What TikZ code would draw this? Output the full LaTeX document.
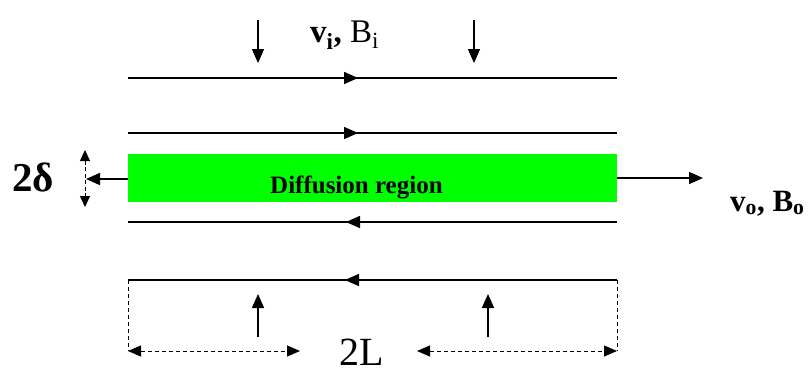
\documentclass[tikz,border=0pt]{standalone}
\usepackage{fontspec}
\setmainfont{Liberation Serif}
\usetikzlibrary{arrows.meta}
\definecolor{diffgreen}{RGB}{0,255,0}
\begin{document}
\begin{tikzpicture}[x=1pt,y=-1pt,
  flow/.style={line width=1.5pt},
  tipped/.style={line width=1.5pt,-{Triangle[length=14pt,width=12pt]}},
  dimline/.style={line width=1pt,dash pattern=on 4pt off 3pt},
  dimarrow/.style={line width=1pt,dash pattern=on 4pt off 3pt,
    {Triangle[length=13pt,width=11pt]}-{Triangle[length=13pt,width=11pt]}},
  lbl/.style={inner sep=0pt,anchor=base west}
]
\useasboundingbox (0,0) rectangle (812,373);

% diffusion region
\node[fill=diffgreen,draw=none,minimum width=489pt,minimum height=48pt,inner sep=0pt,anchor=north west] (dr) at (128,154) {};
\node[lbl,font=\fontsize{25}{30}\selectfont\bfseries] (drt) at (270,193) {Diffusion region};

% field lines
\coordinate (l1a) at (128,78);  \coordinate (l1b) at (617,78);
\coordinate (l2a) at (128,133); \coordinate (l2b) at (617,133);
\coordinate (l3a) at (128,222); \coordinate (l3b) at (617,222);
\coordinate (l4a) at (128,280); \coordinate (l4b) at (617,280);
\draw[flow] (l1a) -- (l1b);
\draw[flow] (l2a) -- (l2b);
\draw[flow] (l3a) -- (l3b);
\draw[flow] (l4a) -- (l4b);
\coordinate (m1s) at (335,78);  \coordinate (m1e) at (358,78);
\coordinate (m2s) at (335,133); \coordinate (m2e) at (358,133);
\coordinate (m3s) at (370,222); \coordinate (m3e) at (346,222);
\coordinate (m4s) at (370,280); \coordinate (m4e) at (345,280);
\draw[tipped] (m1s) -- (m1e);
\draw[tipped] (m2s) -- (m2e);
\draw[tipped] (m3s) -- (m3e);
\draw[tipped] (m4s) -- (m4e);

% inflow arrows
\coordinate (d1s) at (258,20); \coordinate (d1e) at (258,63);
\coordinate (d2s) at (474,20); \coordinate (d2e) at (474,63);
\coordinate (u1s) at (258,337); \coordinate (u1e) at (258,294);
\coordinate (u2s) at (488,337); \coordinate (u2e) at (488,294);
\draw[tipped] (d1s) -- (d1e);
\draw[tipped] (d2s) -- (d2e);
\draw[tipped] (u1s) -- (u1e);
\draw[tipped] (u2s) -- (u2e);

% outflow arrows
\coordinate (ol) at (86,179);
\coordinate (or) at (703,178);
\draw[tipped] (dr.west |- ol) -- (ol);
\draw[tipped] (dr.east |- or) -- (or);

% 2 delta
\coordinate (dt) at (85,150); \coordinate (db) at (85,207);
\draw[line width=1pt,dash pattern=on 4pt off 2.5pt,
  {Triangle[length=11pt,width=10pt]}-{Triangle[length=11pt,width=10pt]}] (dt) -- (db);
\node[lbl,font=\fontsize{41}{44}\selectfont\bfseries] (dl) at (12,191) {2δ};

% 2L dimension
\coordinate (bl) at (128,351); \coordinate (br) at (617,351);
\coordinate (bml) at (300,351); \coordinate (bmr) at (417,351);
\draw[dimline] (l4a) -- (bl);
\draw[dimline] (l4b) -- (br);
\draw[dimarrow] (bl) -- (bml);
\draw[dimarrow] (bmr) -- (br);
\node[lbl,font=\fontsize{40}{44}\selectfont] (twoL) at (339,365) {2L};

% labels
\node[lbl,font=\fontsize{33}{38}\selectfont] (vi) at (310,42) {\textbf{v\textsubscript{i},} B\textsubscript{i}};
\node[lbl,font=\fontsize{31}{36}\selectfont\bfseries] (vo) at (730,211) {v\textsubscript{o}, B\textsubscript{o}};
\end{tikzpicture}
\end{document}
